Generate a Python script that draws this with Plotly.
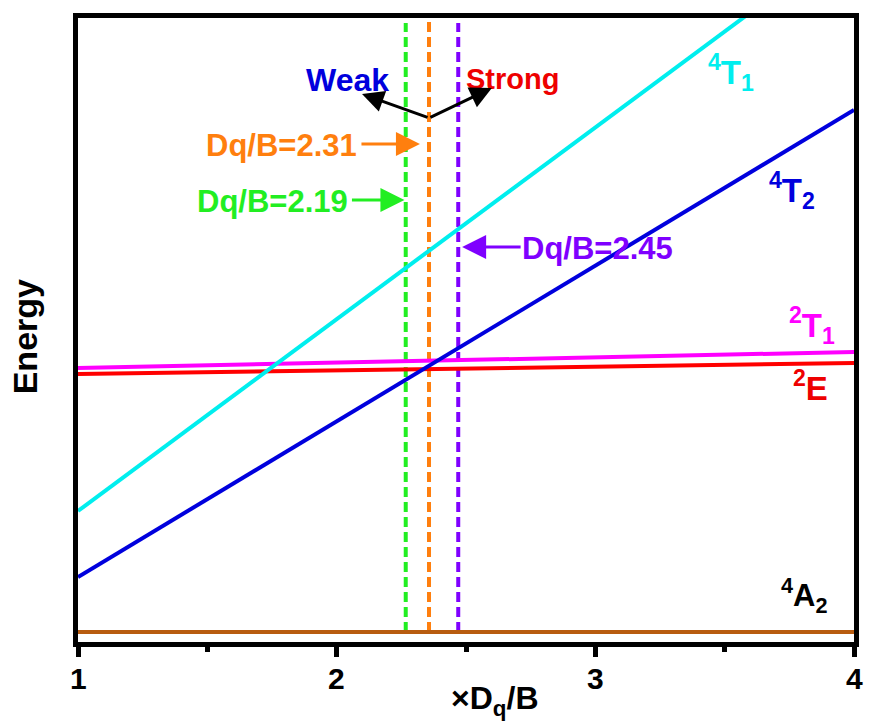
import plotly.graph_objects as go

# ---- data ----
x_span = [1, 4]
A2_4 = [1.0, 1.0]          # 4A2 ground state
E_2 = [26.8, 27.9]         # 2E
T1_2 = [27.4, 29.0]        # 2T1
T2_4 = [6.5, 53.2]         # 4T2
x_T1_4 = [1, 3.581]
T1_4 = [13.1, 62.6]        # 4T1

tick_values = [1, 2, 3, 4]
tick_labels = ["1", "2", "3", "4"]

dq_values = [2.267, 2.357, 2.470]
dq_labels = ["Dq/B=2.19", "Dq/B=2.31", "Dq/B=2.45"]
dq_colors = ["#22ee22", "#ff7f0e", "#7f00ff"]
dq_top = [61.9, 62.6, 61.9]
dq_bottom = 1.0

FONT = "Liberation Sans, Arial, sans-serif"

fig = go.Figure()

# dashed vertical lines
for xv, col, top in zip(dq_values, dq_colors, dq_top):
    fig.add_trace(go.Scatter(x=[xv, xv], y=[dq_bottom, top], mode="lines",
                             line=dict(color=col, width=4, dash="10px,5px"),
                             showlegend=False, hoverinfo="skip"))

series = [
    (x_span, A2_4, "#b85c10"),
    (x_span, E_2, "#ff0000"),
    (x_span, T1_2, "#ff00ff"),
    (x_span, T2_4, "#0000dd"),
    (x_T1_4, T1_4, "#00eeee"),
]
for xs, ys, col in series:
    fig.add_trace(go.Scatter(x=xs, y=ys, mode="lines",
                             line=dict(color=col, width=4),
                             showlegend=False, hoverinfo="skip"))

ann = []
def txt(x, y, s, col, size=30, xanchor="center", xref="x", yref="y", angle=0):
    ann.append(dict(x=x, y=y, xref=xref, yref=yref, text=s, showarrow=False,
                    xanchor=xanchor, yanchor="middle", textangle=angle,
                    font=dict(family=FONT, size=size, color=col, weight="bold")))

def arrow(x, y, ax, ay, col, size=1.6):
    ann.append(dict(x=x, y=y, xref="x", yref="y", ax=ax, ay=ay, text="",
                    showarrow=True, arrowhead=2, arrowsize=size, arrowwidth=3,
                    arrowcolor=col))

# Weak / Strong
txt(2.04, 56.2, "Weak", "#0000dd", 32)
txt(2.68, 56.3, "Strong", "#ee0000", 29)
arrow(2.098, 54.8, 67, 24, "black", 1.45)
arrow(2.600, 55.4, -63, 30, "black", 1.45)

# Dq/B labels with arrows
txt(2.085, 49.7, dq_labels[1], dq_colors[1], 31, xanchor="right")
arrow(2.322, 49.8, -60, 0, dq_colors[1])
txt(2.052, 44.1, dq_labels[0], dq_colors[0], 31, xanchor="right")
arrow(2.262, 44.2, -54, 0, dq_colors[0])
txt(2.707, 39.4, dq_labels[2], dq_colors[2], 31, xanchor="left")
arrow(2.485, 39.5, 60, 0, dq_colors[2])

# state labels
txt(3.526, 57.0, "<sup>4</sup>T<sub>1</sub>", "#00eeee", 33)
txt(3.760, 45.2, "<sup>4</sup>T<sub>2</sub>", "#0000dd", 33)
txt(3.838, 31.7, "<sup>2</sup>T<sub>1</sub>", "#ff00ff", 33)
txt(3.833, 25.6, "<sup>2</sup>E", "#ee0000", 33)
txt(3.807, 4.7, "<sup>4</sup>A<sub>2</sub>", "black", 31)

# x tick labels (drawn from the tick arrays, placed just under the ticks)
for v, lab in zip(tick_values, tick_labels):
    txt(v, -0.0585, lab, "black", 30, yref="paper")

# axis titles
txt(0.537, -0.093, "\u00d7D<sub>q</sub>/B", "black", 32, xref="paper", yref="paper")
txt(-0.069, 0.489, "Energy", "black", 34, xref="paper", yref="paper", angle=-90)

fig.update_layout(
    width=869, height=726, autosize=False,
    margin=dict(l=78, r=15, t=18, b=84),
    paper_bgcolor="white", plot_bgcolor="white",
    annotations=ann,
    xaxis=dict(range=[1, 4], tickvals=tick_values, showticklabels=False,
               automargin=False,
               showline=True, linewidth=5, linecolor="black", mirror=True,
               ticks="outside", ticklen=10, tickwidth=5, tickcolor="black",
               minor=dict(dtick=0.5, ticks="outside", ticklen=5, tickwidth=5, tickcolor="black"),
               showgrid=False, zeroline=False),
    yaxis=dict(range=[0, 62.4], automargin=False,
               showline=True, linewidth=5, linecolor="black", mirror=True,
               ticks="", showticklabels=False, showgrid=False, zeroline=False),
)

fig.write_html("out.html", config={"displayModeBar": False},
               post_script="document.body.style.margin='0px';document.body.style.overflow='hidden';")
